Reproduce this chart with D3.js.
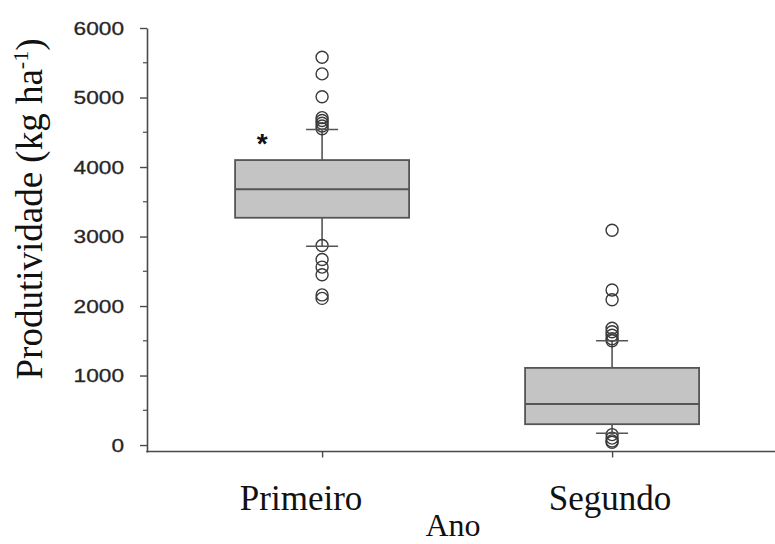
<!DOCTYPE html>
<html>
<head>
<meta charset="utf-8">
<script src="https://cdn.jsdelivr.net/npm/d3@7"></script>
<style>
  html, body { margin: 0; padding: 0; background: #fff; }
  svg { display: block; }
</style>
</head>
<body>
<svg id="chart" width="775" height="544"></svg>
<script>
// Yield per season (kg ha-1): box statistics and outliers
const categories = ["Primeiro", "Segundo"];
const q1Values = [3270, 300];
const medianValues = [3680, 590];
const q3Values = [4100, 1110];
const whiskerLow = [2860, 170];
const whiskerHigh = [4540, 1500];
const outliersPrimeiro = [5580, 5340, 5010, 4710, 4670, 4630, 4590, 4550,
                          2870, 2670, 2560, 2450, 2160, 2110];
const outliersSegundo = [3090, 2230, 2090, 1680, 1630, 1580, 1530, 1500,
                         150, 100, 60, 40];
const outlierSets = [outliersPrimeiro, outliersSegundo];
const yTicks = [0, 1000, 2000, 3000, 4000, 5000, 6000];
const yMinorTicks = [500, 1500, 2500, 3500, 4500, 5500];
const significance = ["*", ""];

const svg = d3.select("#chart");
const axisColor = "#4a4a4a";

const y = d3.scaleLinear().domain([-100, 6000]).range([452, 28]);
const x = d3.scalePoint().domain(categories).range([147, 775]).padding(0.5828).align(0.518);

const boxWidth = 174;
const capWidth = 32;

// Y axis with major and minor ticks
const yAxis = svg.append("g").attr("transform", "translate(147,0)")
  .call(d3.axisLeft(y).tickValues(yTicks).tickFormat(d3.format("d"))
    .tickSize(7).tickSizeOuter(0).tickPadding(16));
yAxis.select(".domain").attr("stroke", axisColor).attr("stroke-width", 1.6);
yAxis.selectAll(".tick line").attr("stroke", axisColor).attr("stroke-width", 1.4);
yAxis.selectAll(".tick text")
  .attr("font-family", "Liberation Sans, Arial, sans-serif")
  .attr("font-size", 19)
  .attr("fill", "#262626")
  .attr("stroke", "#262626")
  .attr("stroke-width", 0.3)
  .attr("textLength", d => String(d).length * 12.6)
  .attr("lengthAdjust", "spacingAndGlyphs");
svg.append("g").selectAll("line").data(yMinorTicks).join("line")
  .attr("x1", 143).attr("x2", 147)
  .attr("y1", d => y(d)).attr("y2", d => y(d))
  .attr("stroke", axisColor).attr("stroke-width", 1.2);

// X axis
const xAxis = svg.append("g").attr("transform", "translate(0,451.5)")
  .call(d3.axisBottom(x).tickSize(6).tickSizeOuter(0).tickFormat(""));
xAxis.select(".domain").remove();
xAxis.selectAll(".tick line").attr("stroke", axisColor).attr("stroke-width", 1.4);
svg.append("line")
  .attr("x1", 146.2).attr("x2", 775).attr("y1", 451.5).attr("y2", 451.5)
  .attr("stroke", axisColor).attr("stroke-width", 1.6);

const labelOffsets = [-21, -2];
svg.append("g").selectAll("text").data(categories).join("text")
  .attr("x", (d, i) => x(d) + labelOffsets[i])
  .attr("y", 510)
  .attr("text-anchor", "middle")
  .attr("font-family", "Liberation Serif, Times New Roman, serif")
  .attr("font-size", 35)
  .attr("fill", "#111")
  .text(d => d);

svg.append("text")
  .attr("x", 453).attr("y", 536)
  .attr("text-anchor", "middle")
  .attr("font-family", "Liberation Serif, Times New Roman, serif")
  .attr("font-size", 32)
  .attr("fill", "#111")
  .text("Ano");

// Y axis title
const yTitle = svg.append("text")
  .attr("transform", "translate(42,209) rotate(-90)")
  .attr("text-anchor", "middle")
  .attr("font-family", "Liberation Serif, Times New Roman, serif")
  .attr("font-size", 37)
  .attr("fill", "#111");
yTitle.append("tspan").text("Produtividade (kg ha");
yTitle.append("tspan").attr("font-size", 22).attr("dy", -14).text("-1");
yTitle.append("tspan").attr("dy", 14).text(")");

// Boxes
const groups = svg.append("g").selectAll("g").data(categories).join("g");

groups.append("line")
  .attr("x1", d => x(d)).attr("x2", d => x(d))
  .attr("y1", (d, i) => y(whiskerHigh[i])).attr("y2", (d, i) => y(q3Values[i]))
  .attr("stroke", "#555").attr("stroke-width", 1.6);
groups.append("line")
  .attr("x1", d => x(d)).attr("x2", d => x(d))
  .attr("y1", (d, i) => y(q1Values[i])).attr("y2", (d, i) => y(whiskerLow[i]))
  .attr("stroke", "#555").attr("stroke-width", 1.6);

groups.append("rect")
  .attr("x", d => x(d) - boxWidth / 2)
  .attr("width", boxWidth)
  .attr("y", (d, i) => y(q3Values[i]))
  .attr("height", (d, i) => y(q1Values[i]) - y(q3Values[i]))
  .attr("fill", "#c4c4c4")
  .attr("stroke", "#555").attr("stroke-width", 1.8);

groups.append("line")
  .attr("x1", d => x(d) - boxWidth / 2).attr("x2", d => x(d) + boxWidth / 2)
  .attr("y1", (d, i) => y(medianValues[i])).attr("y2", (d, i) => y(medianValues[i]))
  .attr("stroke", "#555").attr("stroke-width", 2);

// Outliers
groups.each(function (d, i) {
  d3.select(this).selectAll("circle").data(outlierSets[i]).join("circle")
    .attr("cx", x(d))
    .attr("cy", v => y(v))
    .attr("r", 6)
    .attr("fill", "none")
    .attr("stroke", "#3a3a3a")
    .attr("stroke-width", 1.4);
});

// Whisker caps
groups.append("line")
  .attr("x1", d => x(d) - capWidth / 2).attr("x2", d => x(d) + capWidth / 2)
  .attr("y1", (d, i) => y(whiskerHigh[i])).attr("y2", (d, i) => y(whiskerHigh[i]))
  .attr("stroke", "#555").attr("stroke-width", 1.6);
groups.append("line")
  .attr("x1", d => x(d) - capWidth / 2).attr("x2", d => x(d) + capWidth / 2)
  .attr("y1", (d, i) => y(whiskerLow[i])).attr("y2", (d, i) => y(whiskerLow[i]))
  .attr("stroke", "#555").attr("stroke-width", 1.6);

// Significance marker
groups.append("text")
  .attr("x", d => x(d) - 60)
  .attr("y", 153)
  .attr("text-anchor", "middle")
  .attr("font-family", "Liberation Sans, Arial, sans-serif")
  .attr("font-weight", "bold")
  .attr("font-size", 28)
  .attr("fill", "#111")
  .text((d, i) => significance[i]);
</script>
</body>
</html>
